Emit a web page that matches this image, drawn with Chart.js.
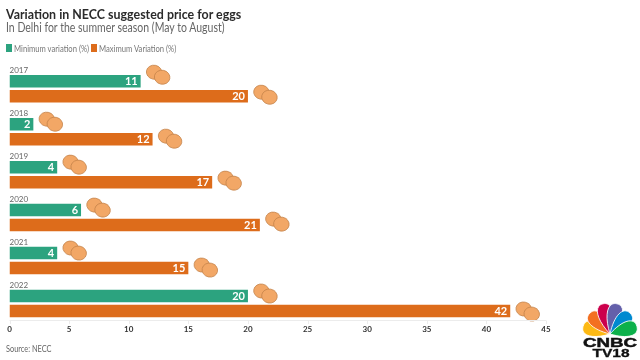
<!DOCTYPE html>
<html>
<head>
<meta charset="utf-8">
<title>Variation in NECC suggested price for eggs</title>
<script src="https://cdn.jsdelivr.net/npm/chart.js@4"></script>
<style>
  html, body { margin: 0; padding: 0; background: #fff; }
  #wrap { position: relative; width: 640px; height: 360px; overflow: hidden; font-family: Lato, sans-serif; }
  #wrap canvas { position: absolute; left: 0; top: 0; }
  .txt { position: absolute; white-space: nowrap; line-height: 1; transform-origin: left center; }
  #title { left: 6px; top: 7px; font-size: 14px; font-weight: 700; color: #2b2b2b; transform: scaleX(.887); }
  #subtitle { left: 6px; top: 22px; font-size: 12.5px; color: #666; transform: scaleX(.84); }
  #source { left: 6px; top: 344px; font-size: 9px; color: #666; transform: scaleX(.82); }
  .legText { top: 44px; font-size: 9px; color: #777; transform: scaleX(.85); }
  .swatch { position: absolute; top: 44px; width: 6px; height: 8px; }
  #logo { position: absolute; left: 578px; top: 300px; }
</style>
</head>
<body>
<div id="wrap">
  <canvas id="eggChart" width="640" height="360"></canvas>
  <div class="txt" id="title">Variation in NECC suggested price for eggs</div>
  <div class="txt" id="subtitle">In Delhi for the summer season (May to August)</div>
  <div class="swatch" style="left:6px;background:#2ca37f"></div>
  <div class="txt legText" style="left:14px">Minimum variation (%)</div>
  <div class="swatch" style="left:91px;background:#dd6c1b"></div>
  <div class="txt legText" style="left:99px">Maximum Variation (%)</div>
  <div class="txt" id="source">Source: NECC</div>
  <svg id="logo" width="62" height="60" viewBox="0 0 62 60">
    <g id="feathers" transform="translate(32 34)"></g>
    <text x="32" y="46.5" text-anchor="middle" font-family="Liberation Sans" font-weight="700" font-size="13" textLength="54" lengthAdjust="spacingAndGlyphs" fill="#111" stroke="#111" stroke-width=".5">CNBC</text>
    <text x="33" y="57" text-anchor="middle" font-family="Liberation Sans" font-weight="700" font-size="11" textLength="37" lengthAdjust="spacingAndGlyphs" fill="#111" stroke="#111" stroke-width=".3">TV18</text>
  </svg>
</div>
<script>
// Datos
const years = ['2017', '2018', '2019', '2020', '2021', '2022'];
const minVariation = [11, 2, 4, 6, 4, 20];
const maxVariation = [20, 12, 17, 21, 15, 42];
const xTicks = [0, 5, 10, 15, 20, 25, 30, 35, 40, 45];

const GREEN = '#2ca37f';
const ORANGE = '#dd6c1b';

// Desplazamiento vertical de los huevos respecto a cada barra
const eggDyMin = [-9, -5, -5, -5, -5, -5];
const eggDyMax = [-4, -3, -4, -6, -3, -2];

function drawEgg(ctx, x, y) {
  ctx.beginPath();
  ctx.ellipse(x, y, 7.8, 7, 0.2, 0, Math.PI * 2);
  ctx.fillStyle = '#f2a766';
  ctx.fill();
  ctx.lineWidth = 0.8;
  ctx.strokeStyle = '#c4834a';
  ctx.stroke();
}

const decorPlugin = {
  id: 'decor',
  afterDatasetsDraw(chart) {
    const ctx = chart.ctx;
    const xs = chart.scales.x;
    const eggOffsets = [eggDyMin, eggDyMax];
    ctx.save();
    [0, 1].forEach(ds => {
      chart.getDatasetMeta(ds).data.forEach((bar, i) => {
        const dy = eggOffsets[ds][i];
        drawEgg(ctx, bar.x + 13.5, bar.y + dy);
        drawEgg(ctx, bar.x + 21.5, bar.y + dy + 5);
        // etiqueta del valor
        ctx.fillStyle = '#fff';
        ctx.font = '700 11px Lato';
        ctx.textAlign = 'right';
        ctx.textBaseline = 'middle';
        ctx.fillText(chart.data.datasets[ds].data[i], bar.x - 3, bar.y + 0.5);
      });
    });
    // años encima de cada grupo
    const first = chart.getDatasetMeta(0).data;
    ctx.fillStyle = '#666';
    ctx.font = '8px Lato';
    ctx.textAlign = 'left';
    years.forEach((y, i) => ctx.fillText(y, xs.left, first[i].y - 11));
    // eje: linea y marcas muy claras
    ctx.strokeStyle = '#ececec';
    ctx.lineWidth = 1;
    ctx.beginPath();
    ctx.moveTo(xs.left, xs.top - 4.5);
    ctx.lineTo(xs.right, xs.top - 4.5);
    xTicks.forEach(v => {
      const px = Math.round(xs.getPixelForValue(v)) + 0.5;
      ctx.moveTo(px, xs.top - 4.5);
      ctx.lineTo(px, xs.top - 1);
    });
    ctx.stroke();
    ctx.restore();
  }
};

new Chart(document.getElementById('eggChart'), {
  type: 'bar',
  data: {
    labels: years,
    datasets: [
      { label: 'Minimum variation (%)', data: minVariation, backgroundColor: GREEN, categoryPercentage: 0.698, barPercentage: 0.833 },
      { label: 'Maximum Variation (%)', data: maxVariation, backgroundColor: ORANGE, categoryPercentage: 0.698, barPercentage: 0.833 }
    ]
  },
  options: {
    indexAxis: 'y',
    responsive: false,
    animation: false,
    layout: { padding: { left: 9.5, right: 94, top: 67.25, bottom: 25 } },
    plugins: {
      title: { display: false },
      legend: { display: false },
      tooltip: { enabled: false }
    },
    scales: {
      x: {
        min: 0, max: 45,
        grid: { display: false, drawTicks: false },
        border: { display: false },
        afterBuildTicks: axis => { axis.ticks = xTicks.map(v => ({ value: v })); },
        afterFit: axis => { axis.height = 10; },
        ticks: { color: '#333', padding: 0, maxRotation: 0, font: { family: 'Lato', size: 8, weight: '700' } }
      },
      y: { display: false }
    }
  },
  plugins: [decorPlugin]
});

// Logo: abanico de plumas
const featherColors = ['#fdb913', '#f37021', '#cc004c', '#6460aa', '#0089d0', '#0db14b'];
const featherAngles = [-74, -44, -13, 13, 44, 74];
const featherLens = [28, 29, 31, 31, 29, 28];
const feathersGroup = document.getElementById('feathers');
featherColors.forEach((c, i) => {
  const L = featherLens[i];
  const p = document.createElementNS('http://www.w3.org/2000/svg', 'path');
  p.setAttribute('d', `M0,0 C-10,${-L * 0.55} -10,${-L} 0,${-L} C10,${-L} 10,${-L * 0.55} 0,0Z`);
  p.setAttribute('fill', c);
  p.setAttribute('stroke', '#fff');
  p.setAttribute('stroke-width', '0.8');
  p.setAttribute('transform', `rotate(${featherAngles[i]})`);
  feathersGroup.appendChild(p);
});
</script>
</body>
</html>
